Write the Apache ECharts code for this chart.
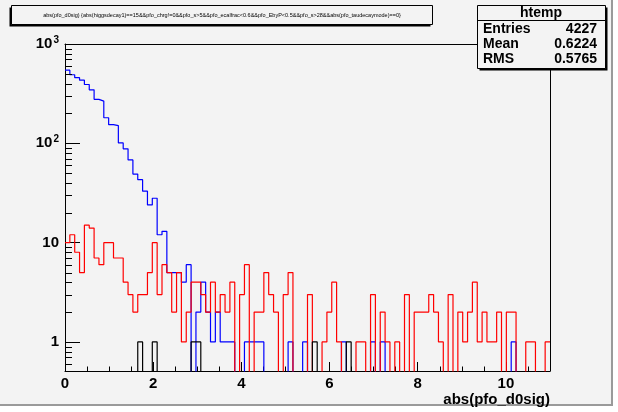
<!DOCTYPE html>
<html>
<head>
<meta charset="utf-8">
<script src="https://cdn.jsdelivr.net/npm/echarts@6/dist/echarts.min.js"></script>
<style>
  html, body { margin: 0; padding: 0; background: #fff; }
  #chart { width: 618px; height: 412px; }
</style>
</head>
<body>
<div id="chart"></div>
<script>
// histogram binning (100 bins over 0..11)
var histMin = 0;
var histMax = 11;
var binWidth = 0.11;

// bin contents
var blueCounts = [
  545, 490, 458, 432, 391, 346, 277, 266, 181, 154,
  151, 101, 88, 68, 49, 43, 33, 24, 28, 12,
  13, 5, 5, 5, 4, 6, 0, 2, 4, 2,
  1, 2, 1, 1, 1, 0, 0, 1, 1, 1,
  1, 0, 0, 0, 0, 0, 1, 0, 0, 1,
  0, 0, 0, 0, 0, 0, 0, 1, 0, 0,
  0, 0, 0, 1, 0, 1, 0, 0, 0, 0,
  0, 0, 0, 0, 0, 0, 0, 0, 0, 0,
  0, 0, 0, 0, 0, 0, 0, 0, 0, 0,
  0, 0, 1, 0, 0, 0, 0, 0, 0, 0
];
var redCounts = [
  10, 12, 8, 5, 15, 14, 7, 6, 10, 10,
  7, 7, 4, 3, 2, 3, 3, 5, 10, 3,
  6, 5, 2, 5, 1, 2, 4, 4, 3, 2,
  4, 2, 3, 2, 4, 0, 3, 6, 0, 2,
  2, 5, 3, 2, 0, 3, 5, 0, 0, 0,
  3, 0, 0, 1, 2, 4, 1, 0, 0, 0,
  1, 1, 0, 3, 0, 2, 1, 0, 1, 0,
  3, 0, 2, 2, 2, 3, 2, 1, 0, 3,
  0, 2, 1, 2, 4, 1, 2, 1, 1, 2,
  0, 2, 2, 0, 0, 1, 1, 0, 0, 1
];
var blackCounts = [
  0, 0, 0, 0, 0, 0, 0, 0, 0, 0,
  0, 0, 0, 0, 0, 1, 0, 0, 1, 0,
  0, 0, 0, 0, 0, 0, 1, 1, 0, 0,
  0, 0, 0, 0, 0, 0, 0, 0, 0, 0,
  0, 0, 0, 0, 0, 0, 0, 0, 0, 0,
  0, 1, 0, 0, 0, 0, 0, 0, 1, 0,
  0, 0, 0, 0, 0, 0, 0, 0, 0, 0,
  0, 0, 0, 0, 0, 0, 0, 0, 0, 0,
  0, 0, 0, 0, 0, 0, 0, 0, 0, 0,
  0, 0, 0, 0, 0, 0, 0, 0, 0, 0
];

// axes
var yMin = 0.51;
var yMax = 1000;
var yMinorTicks = [0.6, 0.7, 0.8, 0.9, 2, 3, 4, 5, 6, 7, 8, 9,
  20, 30, 40, 50, 60, 70, 80, 90, 200, 300, 400, 500, 600, 700, 800, 900];

var titleText = 'abs(pfo_d0sig) {abs(higgsdecay1)==15&&pfo_chrg!=0&&pfo_s>5&&pfo_ecalfrac<0.6&&pfo_EbyP<0.5&&pfo_s>28&&abs(pfo_taudecaymode)==0}';
var xTitle = 'abs(pfo_d0sig)';
var statsName = 'htemp';
var statsLabels = ['Entries', 'Mean', 'RMS'];
var statsValues = ['4227', '0.6224', '0.5765'];

var FONT = 'Liberation Sans, Arial, Helvetica, sans-serif';
var BG = '#f3f3f3';
// empty bins go below the frame and get clipped
var emptyLevel = 0.3;

function stepData(counts) {
  var pts = [];
  for (var i = 0; i < counts.length; i++) {
    pts.push([histMin + i * binWidth, counts[i] > 0 ? counts[i] : emptyLevel]);
  }
  var last = counts[counts.length - 1];
  pts.push([histMax, last > 0 ? last : emptyLevel]);
  return pts;
}

function histSeries(counts, color) {
  return {
    type: 'line',
    xAxisIndex: 0,
    yAxisIndex: 0,
    step: 'end',
    symbol: 'none',
    clip: true,
    data: stepData(counts),
    lineStyle: { color: color, width: 1.2 },
    z: 2
  };
}

function yLabel(v) {
  var lg = Math.log10(v);
  var p = Math.round(lg);
  if (Math.abs(lg - p) > 1e-6) return '';
  if (p === 0) return '1';
  if (p === 1) return '10';
  return '10{sup|' + p + '}';
}

var chart = echarts.init(document.getElementById('chart'), null, { renderer: 'canvas' });

var graphics = [
  { type: 'rect', shape: { x: 0, y: 0, width: 612, height: 405 }, style: { fill: BG }, z: -10, silent: true },
  { type: 'line', shape: { x1: 612, y1: 0, x2: 612, y2: 406 }, style: { stroke: '#9a9a9a', lineWidth: 2 }, z: -9 },
  { type: 'line', shape: { x1: 0, y1: 405, x2: 613, y2: 405 }, style: { stroke: '#9a9a9a', lineWidth: 2 }, z: -9 },
  // title box
  { type: 'rect', shape: { x: 9.5, y: 7.5, width: 421, height: 19 }, style: { fill: '#000' }, z: 10 },
  { type: 'rect', shape: { x: 11.5, y: 5.5, width: 421, height: 19 }, style: { fill: BG, stroke: '#000', lineWidth: 1 }, z: 11 },
  { type: 'text', x: 222, y: 15, style: { text: titleText, fontFamily: FONT, fontSize: 5.5, fill: '#000', align: 'center', verticalAlign: 'middle' }, z: 12 },
  // stats box
  { type: 'rect', shape: { x: 479.5, y: 7.5, width: 128, height: 63 }, style: { fill: '#000' }, z: 10 },
  { type: 'rect', shape: { x: 477.5, y: 5.5, width: 128, height: 63 }, style: { fill: BG, stroke: '#000', lineWidth: 1 }, z: 11 },
  { type: 'line', shape: { x1: 477.5, y1: 20.5, x2: 605.5, y2: 20.5 }, style: { stroke: '#000', lineWidth: 1 }, z: 12 },
  { type: 'text', x: 541, y: 13, style: { text: statsName, fontFamily: FONT, fontSize: 14, fontWeight: 'bold', fill: '#000', align: 'center', verticalAlign: 'middle' }, z: 12 }
];
for (var i = 0; i < statsLabels.length; i++) {
  graphics.push({ type: 'text', x: 483, y: 29 + i * 15, style: { text: statsLabels[i], fontFamily: FONT, fontSize: 14, fontWeight: 'bold', fill: '#000', align: 'left', verticalAlign: 'middle' }, z: 12 });
  graphics.push({ type: 'text', x: 597, y: 29 + i * 15, style: { text: statsValues[i], fontFamily: FONT, fontSize: 14, fontWeight: 'bold', fill: '#000', align: 'right', verticalAlign: 'middle' }, z: 12 });
}

var option = {
  animation: false,
  backgroundColor: 'transparent',
  grid: { left: 65, right: 68, top: 44, bottom: 41, containLabel: false },
  graphic: graphics,
  xAxis: [
    {
      type: 'value', position: 'bottom', min: histMin, max: histMax, interval: 0.5,
      axisLine: { show: true, onZero: false, lineStyle: { color: '#000', width: 1 } },
      axisTick: { show: true, inside: true, length: 4.5, lineStyle: { color: '#000' } },
      axisLabel: { show: false },
      splitLine: { show: false }
    },
    {
      type: 'value', position: 'bottom', min: histMin, max: histMax, interval: 2,
      axisLine: { show: false, onZero: false },
      axisTick: { show: true, inside: true, length: 9, lineStyle: { color: '#000' } },
      axisLabel: { show: true, showMaxLabel: false, margin: 5, color: '#000', fontFamily: FONT, fontSize: 15, fontWeight: 'bold' },
      splitLine: { show: false },
      name: xTitle, nameLocation: 'end', nameGap: 0,
      nameTextStyle: { color: '#000', fontFamily: FONT, fontSize: 15, fontWeight: 'bold', align: 'right', verticalAlign: 'top', padding: [21, 0, 0, 0] }
    },
    {
      type: 'value', position: 'top', min: histMin, max: histMax,
      axisLine: { show: true, onZero: false, lineStyle: { color: '#000', width: 1 } },
      axisTick: { show: false }, axisLabel: { show: false }, splitLine: { show: false }
    }
  ],
  yAxis: [
    {
      type: 'log', logBase: 10, position: 'left', min: yMin, max: yMax,
      axisLine: { show: true, onZero: false, lineStyle: { color: '#000', width: 1 } },
      axisTick: { show: true, inside: true, length: 15, lineStyle: { color: '#000' } },
      axisLabel: {
        show: true, margin: 6, formatter: yLabel, color: '#000',
        fontFamily: FONT, fontSize: 15, fontWeight: 'bold',
        rich: { sup: { fontFamily: FONT, fontSize: 10, fontWeight: 'bold', color: '#000', padding: [0, 0, 8, 1] } }
      },
      splitLine: { show: false }
    },
    {
      type: 'log', logBase: 10, position: 'right', min: yMin, max: yMax,
      axisLine: { show: true, onZero: false, lineStyle: { color: '#000', width: 1 } },
      axisTick: { show: false }, axisLabel: { show: false }, splitLine: { show: false }
    }
  ],
  series: [
    histSeries(blueCounts, '#0000ff'),
    histSeries(redCounts, '#ff0000'),
    histSeries(blackCounts, '#000000'),
    {
      type: 'custom',
      xAxisIndex: 0,
      yAxisIndex: 0,
      data: yMinorTicks.map(function (v) { return [histMin, v]; }),
      renderItem: function (params, api) {
        var p = api.coord([api.value(0), api.value(1)]);
        var y = Math.round(p[1]) + 0.5;
        var x = Math.round(p[0]);
        return {
          type: 'line',
          shape: { x1: x, y1: y, x2: x + 7, y2: y },
          style: { stroke: '#000', lineWidth: 1 }
        };
      },
      z: 3
    }
  ]
};

chart.setOption(option);
</script>
</body>
</html>
